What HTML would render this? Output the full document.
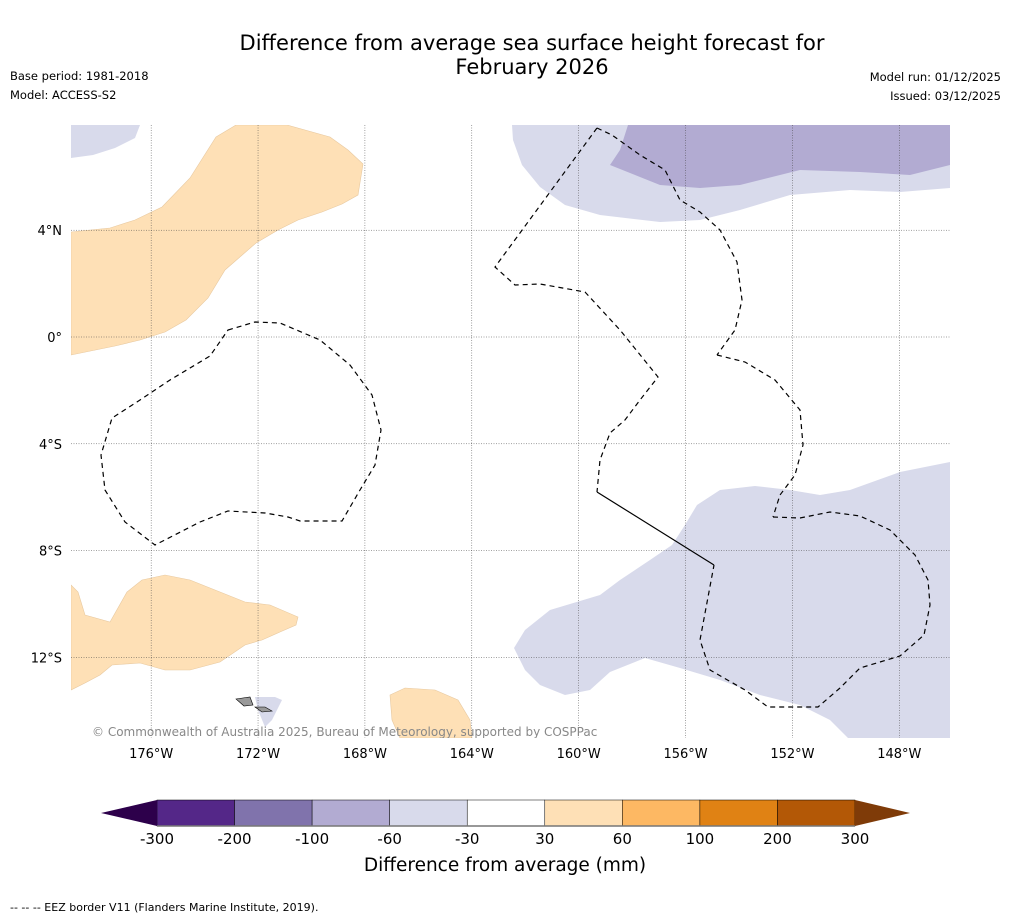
<!DOCTYPE html>
<html><head><meta charset="utf-8"><style>
body{margin:0;background:#fff;font-family:"Liberation Sans","DejaVu Sans",sans-serif}
svg text{font-family:"DejaVu Sans","Liberation Sans",sans-serif}
</style></head><body>
<svg id="s" width="1011" height="919" viewBox="0 0 1011 919" xmlns="http://www.w3.org/2000/svg">
<rect width="1011" height="919" fill="#fff"/>
<text x="532" y="50" font-size="21" text-anchor="middle">Difference from average sea surface height forecast for</text>
<text x="532" y="74" font-size="21" text-anchor="middle">February 2026</text>
<text x="10" y="80" font-size="11.5">Base period: 1981-2018</text>
<text x="10" y="99" font-size="11.5">Model: ACCESS-S2</text>
<text x="1001" y="81" font-size="11.5" text-anchor="end">Model run: 01/12/2025</text>
<text x="1001" y="100" font-size="11.5" text-anchor="end">Issued: 03/12/2025</text>
<defs><clipPath id="mc"><rect x="71" y="125" width="879" height="613"/></clipPath></defs>
<g id="map" clip-path="url(#mc)">
<polygon fill="#fee0b6" stroke="#e8c9a0" stroke-width="0.6" points="71,232 110,228 135,220 162,207 190,178 216,137 236,125 287,125 330,137 348,150 363,164 358,195 342,204 322,212 298,220 278,230 256,243 225,270 208,298 186,320 165,332 140,340 115,346 71,355"/>
<polygon fill="#d8daeb" points="71,125 140,125 135,138 115,148 93,155 71,158"/>
<polygon fill="#d8daeb" points="512,125 950,125 950,188 900,192 850,190 790,195 740,210 700,220 660,222 600,215 565,205 540,187 522,165 513,140"/>
<polygon fill="#b2abd2" points="628,125 950,125 950,165 910,175 860,172 800,170 760,180 740,185 700,188 660,185 610,165 620,150"/>
<polygon fill="#d8daeb" points="950,462 900,472 850,490 820,495 790,490 755,486 720,490 697,505 685,525 672,545 650,560 620,580 600,595 550,610 525,630 514,648 525,670 540,685 565,695 590,690 610,672 645,658 680,668 720,680 760,695 800,705 830,720 848,738 950,738"/>
<polygon fill="#fee0b6" stroke="#e8c9a0" stroke-width="0.6" points="71,585 78,592 85,615 110,622 127,592 142,580 165,575 190,580 215,590 245,602 270,605 298,617 296,625 280,632 262,640 245,645 220,662 190,670 165,670 140,663 112,665 100,675 85,683 71,690"/>
<polygon fill="#fee0b6" stroke="#e8c9a0" stroke-width="0.6" points="390,695 405,688 435,690 458,700 470,720 472,738 400,738 392,720"/>
<polygon fill="#d8daeb" points="255,697 275,697 282,700 272,720 265,727 258,710"/>
<polygon fill="#999" stroke="#000" stroke-width="0.6" points="236,699 250,697 253,705 244,706"/>
<polygon fill="#999" stroke="#000" stroke-width="0.6" points="255,707 265,707 272,711 262,712"/>
<g id="grid"></g>
<g fill="none" stroke="#000" stroke-width="1.2" stroke-dasharray="5,4">
<polyline points="597,128 612,135 640,155 665,170 680,200 700,212 720,230 737,262 742,300 735,330 717,355"/>
<polyline points="717,355 745,362 775,380 800,410 803,445 795,475 780,495 773,517"/>
<polyline points="773,517 800,518 830,512 860,516 890,530 915,555 928,580 930,605 924,635 900,656 860,668 840,688 818,707 768,707 745,690 710,670 700,640 714,565"/>
<polyline points="597,128 495,267 515,285 540,284 585,292 620,330 658,377 640,400 625,420 610,433 600,460 597,492"/>
<polygon points="228,330 255,322 280,323 320,340 350,365 372,395 381,430 375,465 360,490 342,521 300,521 288,517 265,513 228,511 200,522 155,545 125,522 105,490 101,455 112,418 140,400 170,380 210,356"/>
</g>
<line x1="597" y1="492" x2="714" y2="565" stroke="#000" stroke-width="1.2"/>
<text x="92" y="736" font-size="12" fill="#888">© Commonwealth of Australia 2025, Bureau of Meteorology, supported by COSPPac</text>
</g>
<g id="labels"></g>
<g id="cbar"></g>
<text x="505" y="871" font-size="18.5" text-anchor="middle">Difference from average (mm)</text>
<text x="10" y="911" font-size="11">--  --  -- EEZ border V11 (Flanders Marine Institute, 2019).</text>
</svg>
<script>
const lonTicks=[-176,-172,-168,-164,-160,-156,-152,-148];
const latTicks=[4,0,-4,-8,-12];
const levels=[-300,-200,-100,-60,-30,30,60,100,200,300];
const colors=["#542788","#8073ac","#b2abd2","#d8daeb","#ffffff","#fee0b6","#fdb863","#e08214","#b35806"];
const extColors=["#2d004b","#7f3b08"];
const NS="http://www.w3.org/2000/svg";
const X=lon=>71+(lon+179)*26.72, Y=lat=>337-lat*26.7;
function mk(t,a,p){const e=document.createElementNS(NS,t);for(const k in a)e.setAttribute(k,a[k]);p.appendChild(e);return e;}
const grid=document.getElementById('grid'),lab=document.getElementById('labels');
lonTicks.forEach(l=>{const x=X(l);
 const g=mk('line',{x1:x,x2:x,y1:125,y2:738,stroke:'#444','stroke-width':0.5,'stroke-dasharray':'1,1.5'},grid);
 
 
 const t=mk('text',{x:x,y:758,'font-size':13,'text-anchor':'middle'},lab);t.textContent=Math.abs(l)+'°W';
 
 });
latTicks.forEach(l=>{const y=Y(l);
 const g=mk('line',{x1:71,x2:950,y1:y,y2:y,stroke:'#444','stroke-width':0.5,'stroke-dasharray':'1,1.5'},grid);
 
 
 const t=mk('text',{x:62,y:y+5,'font-size':13,'text-anchor':'end'},lab);t.textContent=l===0?'0°':Math.abs(l)+'°'+(l>0?'N':'S');
 
 });
const cb=document.getElementById('cbar');const x0=157,x1=855,y0=800,h=26,n=levels.length-1,w=(x1-x0)/n;
colors.forEach((c,i)=>{const r=mk('rect',{x:x0+i*w,y:y0,width:w,height:h,fill:c,stroke:'#000','stroke-width':0.5},cb);
 
 });
const a=mk('polygon',{points:`${x0},${y0} ${x0},${y0+h} 101,${y0+h/2}`,fill:extColors[0]},cb);


const b=mk('polygon',{points:`${x1},${y0} ${x1},${y0+h} 910,${y0+h/2}`,fill:extColors[1]},cb);


mk('line',{x1:x0,x2:x1,y1:y0+h,y2:y0+h,stroke:'#777','stroke-width':1.5},cb);
levels.forEach((v,i)=>{const t=mk('text',{x:x0+i*w,y:844,'font-size':15,'text-anchor':'middle'},cb);t.textContent=v;
 
 });
</script>
</body></html>
